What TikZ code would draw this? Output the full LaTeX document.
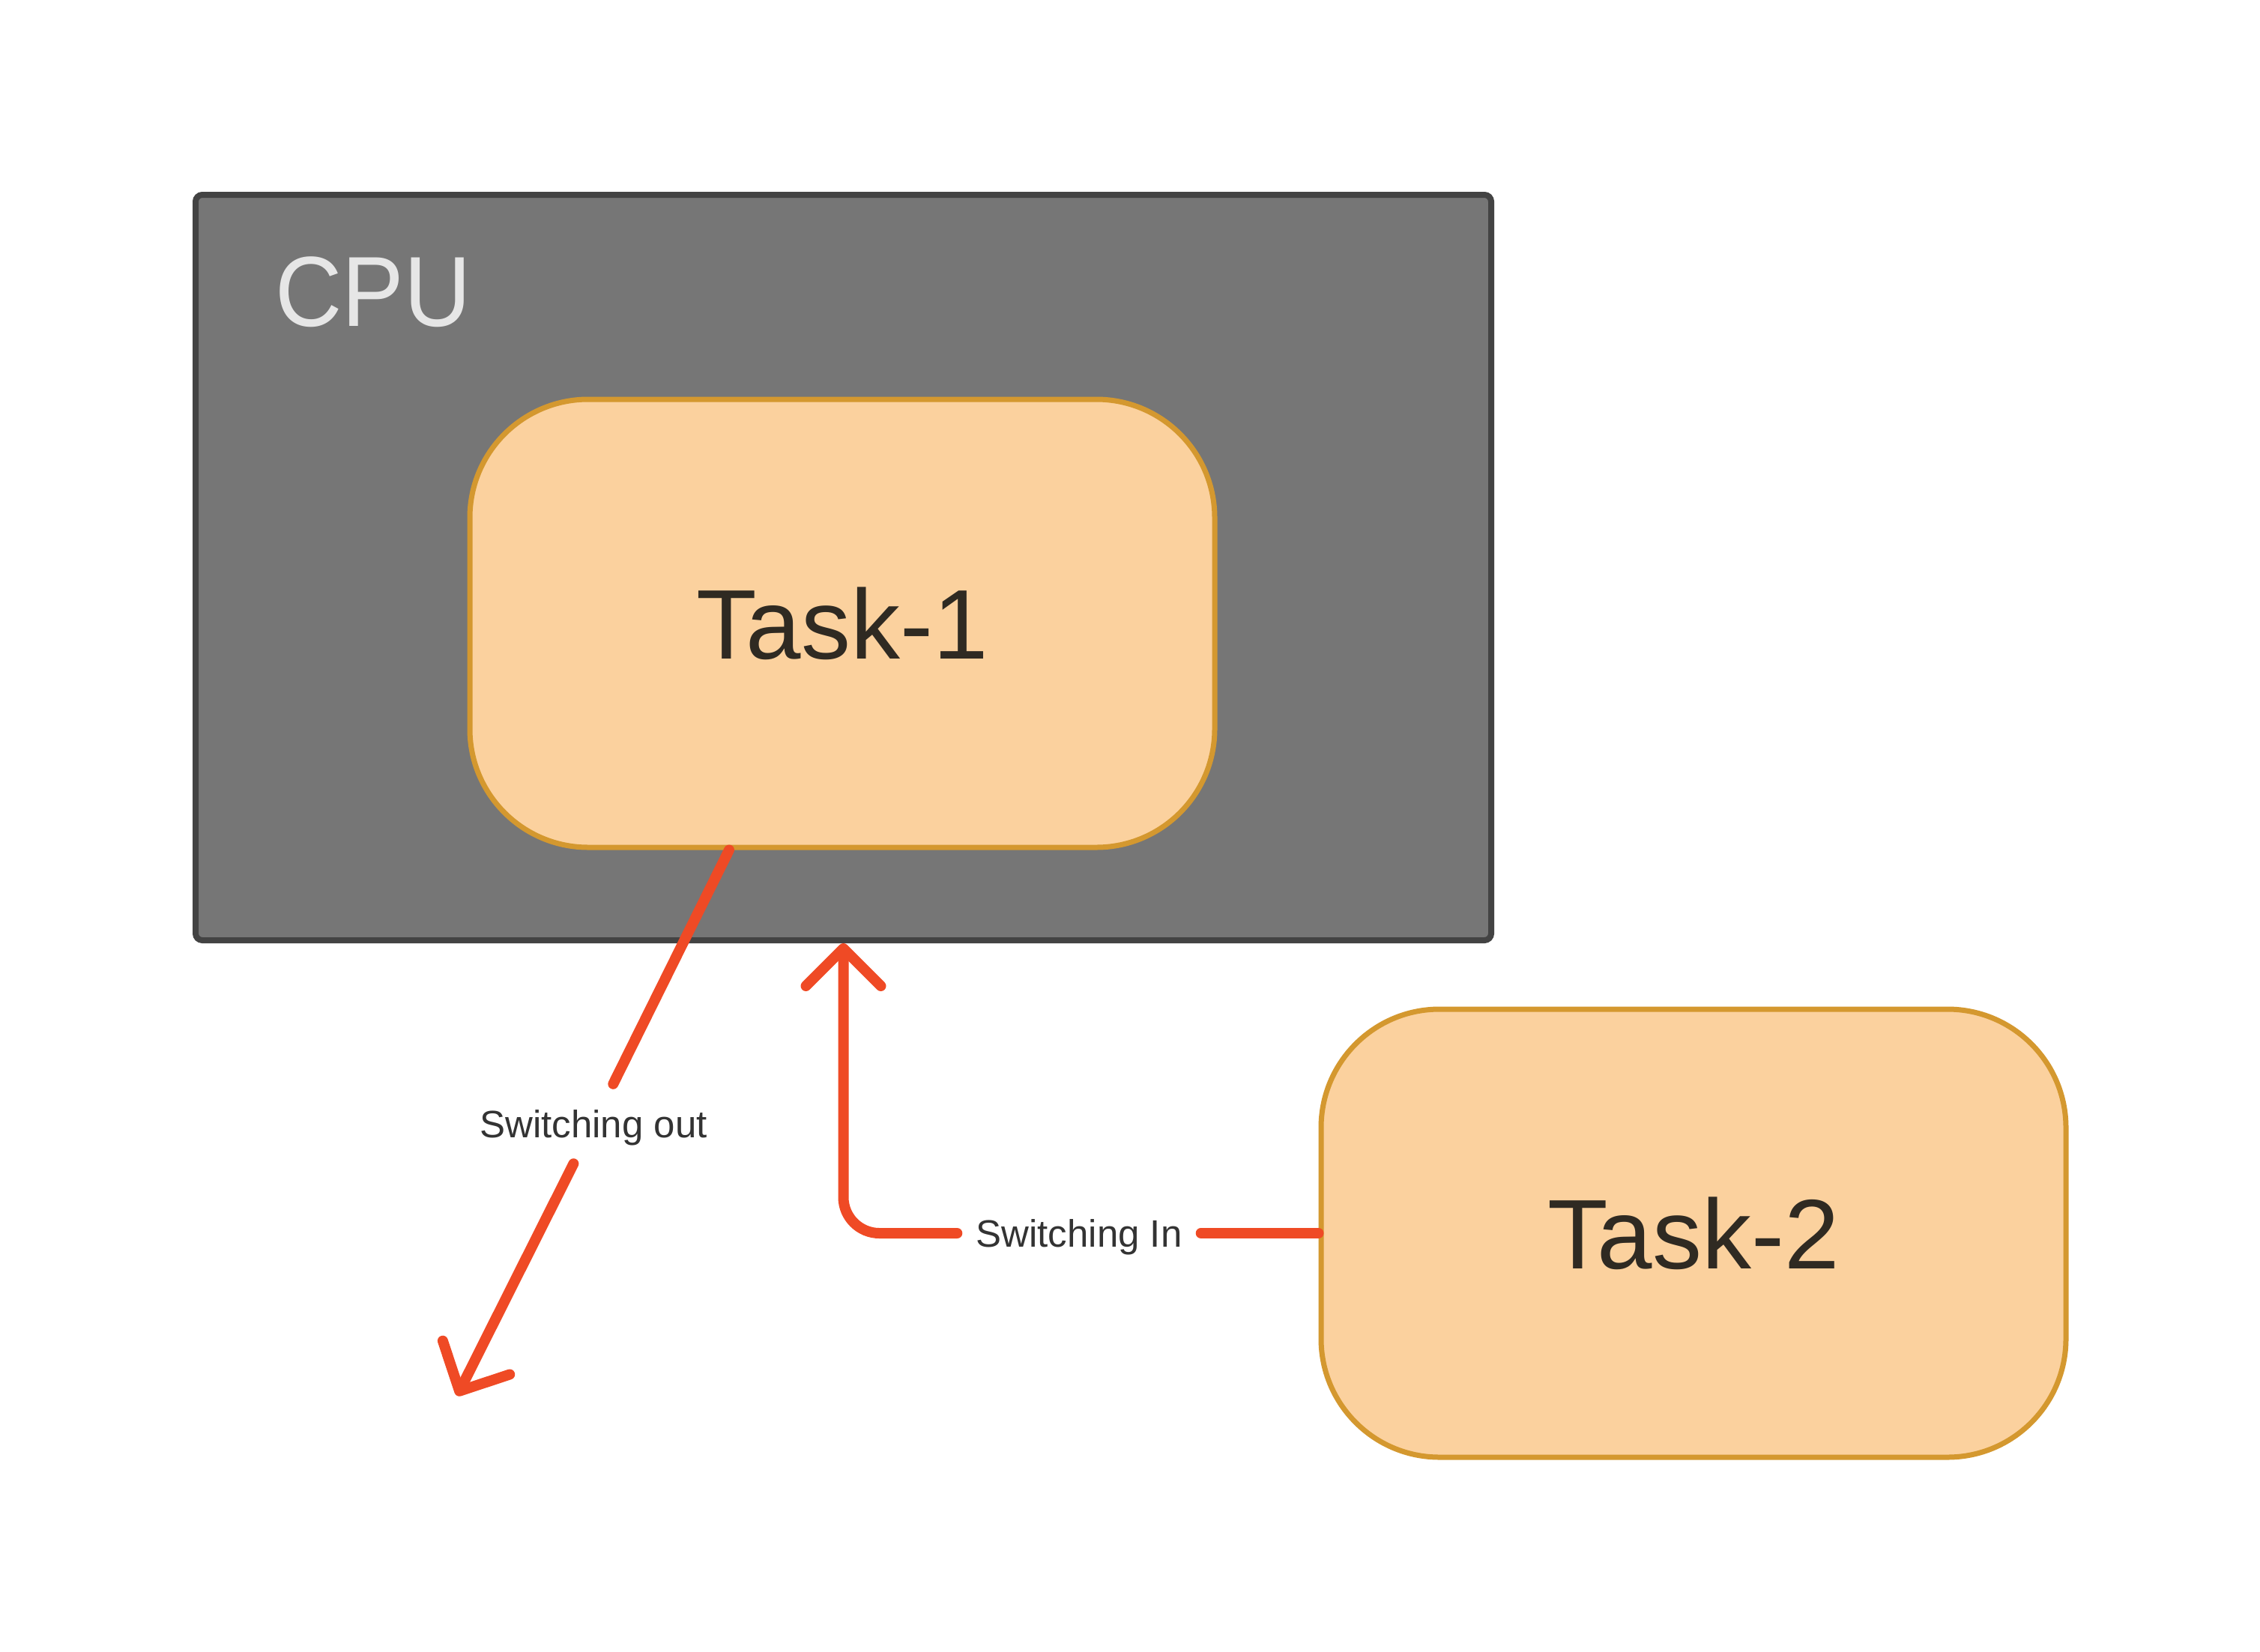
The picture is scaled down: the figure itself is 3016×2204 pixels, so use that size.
\documentclass[tikz,border=0pt]{standalone}
\usepackage{fontspec}
\setmainfont{Liberation Sans}
\newfontfamily\bigfont[FakeStretch=0.93]{Liberation Sans}
\usetikzlibrary{arrows.meta,calc}
\definecolor{cpufill}{HTML}{767676}
\definecolor{cpuborder}{HTML}{434343}
\definecolor{cputext}{HTML}{E6E6E6}
\definecolor{taskfill}{HTML}{FBD19E}
\definecolor{taskborder}{HTML}{D4982F}
\definecolor{tasktext}{HTML}{2F2A22}
\definecolor{arrowred}{HTML}{EF4A25}
\definecolor{labeltext}{HTML}{333333}
\begin{document}
\begin{tikzpicture}[x=1pt,y=-1pt,
  cpubox/.style={draw=cpuborder, fill=cpufill, line width=8pt, rounded corners=9pt,
    minimum width=1729pt, minimum height=995pt, inner sep=0pt},
  taskbox/.style={draw=taskborder, fill=taskfill, line width=7pt, rounded corners=158pt,
    minimum width=994pt, minimum height=598pt, inner sep=0pt,
    font=\fontsize{132}{150}\selectfont, text=tasktext},
  cpulabel/.style={font=\bigfont\fontsize{133}{150}\selectfont, text=cputext, inner sep=0pt},
  swlabel/.style={font=\fontsize{51}{60}\selectfont, text=labeltext, text height=36pt, text depth=0pt},
  redline/.style={draw=arrowred, line width=14pt, line cap=round, line join=round},
  barb/.style={-{Straight Barb[length=50pt, width=100pt, round]}}
]
\fill[white] (0,0) rectangle (3016,2204);
\useasboundingbox (0,0) rectangle (3016,2204);

\node[cpubox] (cpu) at (1125.5,757.5) {};
\node[cpulabel, anchor=base west] (cpulab) at (367,435) {CPU};
\node[taskbox] (t1) at (1124,832) {Task-1};
\node[taskbox] (t2) at (2260,1646) {Task-2};

\node[swlabel, inner xsep=6pt, inner ysep=35pt] (sout) at (792,1500) {Switching out};
\node[swlabel, inner xsep=25pt, inner ysep=6pt] (sin) at (1440,1646) {Switching In};
\coordinate (outend) at (610,1863);

\draw[redline] ([xshift=-151pt]t1.south) -- (sout);
\draw[redline, barb] (sout) -- (outend);
\draw[redline] (t2.west) -- (sin);
\draw[redline, barb, rounded corners=48pt] (sin) -| (cpu.south);
\end{tikzpicture}
\end{document}
